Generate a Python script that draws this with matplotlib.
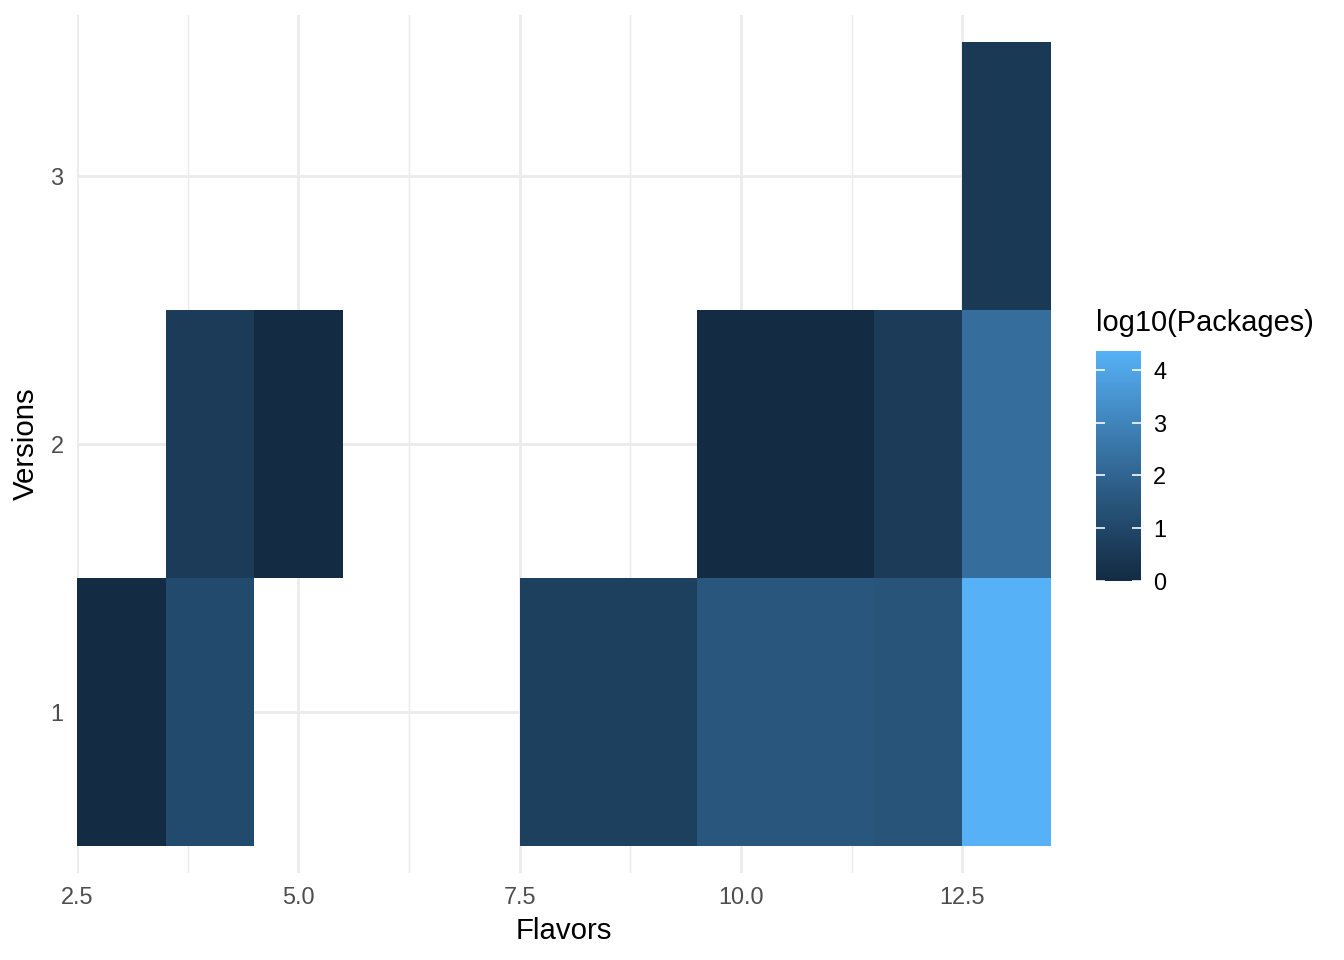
import numpy as np
import matplotlib
matplotlib.use("Agg")
import matplotlib.pyplot as plt
from matplotlib.colors import ListedColormap, Normalize

# tiles: flavour count, version count, log10 of package count
flavors = [3, 4, 8, 9, 10, 11, 12, 13, 4, 5, 10, 11, 12, 13, 13]
versions = [1, 1, 1, 1, 1, 1, 1, 1, 2, 2, 2, 2, 2, 2, 3]
log_pkgs = [0.05, 1.1, 0.75, 0.75, 1.5, 1.5, 1.45, 4.36,
            0.6, 0.0, 0.0, 0.0, 0.6, 2.3, 0.5]

x_ticks = [2.5, 5.0, 7.5, 10.0, 12.5]
x_minor = [3.75, 6.25, 8.75, 11.25]
y_ticks = [1, 2, 3]
bar_ticks = [0, 1, 2, 3, 4]

plt.rcParams['font.family'] = ['Liberation Sans', 'DejaVu Sans']


def hex_to_lab(h):
    # sRGB -> CIELAB (D65), same space ggplot uses for its gradient
    rgb = np.array([int(h[i:i + 2], 16) for i in (1, 3, 5)]) / 255.0
    lin = np.where(rgb <= 0.04045, rgb / 12.92, ((rgb + 0.055) / 1.055) ** 2.4)
    m = np.array([[0.4124, 0.3576, 0.1805],
                  [0.2126, 0.7152, 0.0722],
                  [0.0193, 0.1192, 0.9505]])
    xyz = m @ lin / np.array([0.95047, 1.0, 1.08883])
    f = np.where(xyz > 0.008856, np.cbrt(xyz), 7.787 * xyz + 16 / 116)
    return np.array([116 * f[1] - 16, 500 * (f[0] - f[1]), 200 * (f[1] - f[2])])


def lab_to_rgb(lab):
    fy = (lab[0] + 16) / 116
    fx = fy + lab[1] / 500
    fz = fy - lab[2] / 200
    f = np.array([fx, fy, fz])
    xyz = np.where(f ** 3 > 0.008856, f ** 3, (f - 16 / 116) / 7.787)
    xyz = xyz * np.array([0.95047, 1.0, 1.08883])
    minv = np.array([[3.2406, -1.5372, -0.4986],
                     [-0.9689, 1.8758, 0.0415],
                     [0.0557, -0.2040, 1.0570]])
    lin = minv @ xyz
    rgb = np.where(lin <= 0.0031308, 12.92 * lin, 1.055 * np.clip(lin, 0, None) ** (1 / 2.4) - 0.055)
    return np.clip(rgb, 0, 1)


lo, hi = hex_to_lab("#132B43"), hex_to_lab("#56B1F7")
cmap = ListedColormap([lab_to_rgb(lo + t * (hi - lo)) for t in np.linspace(0, 1, 256)])
norm = Normalize(vmin=min(log_pkgs), vmax=max(log_pkgs))

# grid of tiles, empty cells left as NaN
x_edges = np.arange(2.5, 14.0, 1.0)
y_edges = np.arange(0.5, 4.0, 1.0)
grid = np.full((len(y_edges) - 1, len(x_edges) - 1), np.nan)
for fx, vy, val in zip(flavors, versions, log_pkgs):
    grid[vy - 1, fx - 3] = val

fig = plt.figure(figsize=(7, 5), dpi=192)
ax = fig.add_axes([77 / 1344, 1 - 873 / 960, (1051 - 77) / 1344, (873 - 15) / 960])

grid_col = "#EBEBEB"
for xv in x_ticks:
    ax.axvline(xv, color=grid_col, lw=1.05, zorder=0)
for xv in x_minor:
    ax.axvline(xv, color=grid_col, lw=0.53, zorder=0)
for yv in y_ticks:
    ax.axhline(yv, color=grid_col, lw=1.05, zorder=0)

ax.pcolormesh(x_edges, y_edges, np.ma.masked_invalid(grid), cmap=cmap, norm=norm,
              edgecolors='none', antialiased=False, zorder=1)

ax.set_xlim(2.5, 13.5)
ax.set_ylim(0.4, 3.6)
ax.set_xticks(x_ticks)
ax.set_xticklabels([f"{v:.1f}" for v in x_ticks])
ax.set_yticks(y_ticks)
ax.tick_params(length=0, pad=5, labelsize=8.8, labelcolor="#4D4D4D")
for s in ax.spines.values():
    s.set_visible(False)
ax.set_xlabel("Flavors", fontsize=11, labelpad=3)
ax.set_ylabel("Versions", fontsize=11, labelpad=4)

# colour bar legend
cax = fig.add_axes([1096 / 1344, 1 - 581 / 960, 45 / 1344, 230 / 960])
sm = plt.cm.ScalarMappable(norm=norm, cmap=cmap)
cb = fig.colorbar(sm, cax=cax, ticks=bar_ticks)
cb.outline.set_visible(False)
cax.tick_params(direction='in', length=3.2, width=0.6, color='white', labelsize=8.8,
                labelcolor='black', pad=4.5, left=True, right=True)
fig.text(1096 / 1344, 1 - 323 / 960, "log10(Packages)", fontsize=10.9, va='center', ha='left')

fig.savefig("out.png", dpi=192)
